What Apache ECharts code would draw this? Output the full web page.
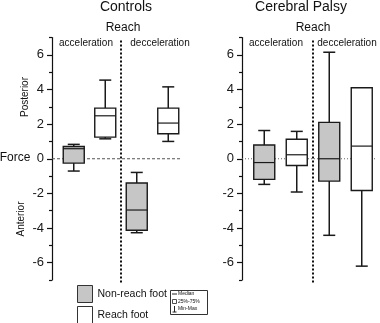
<!DOCTYPE html>
<html><head><meta charset="utf-8">
<script src="https://cdn.jsdelivr.net/npm/echarts@6/dist/echarts.min.js"></script>
<style>html,body{margin:0;padding:0;background:#fff}#c{width:380px;height:323px}</style>
</head><body><div id="c"></div>
<script>
// ---- data ----
const categories = ['acceleration non-reach', 'acceleration reach', 'decceleration non-reach', 'decceleration reach'];
const yMajorTicks = [-6, -4, -2, 0, 2, 4, 6];
const yMinorTicks = [-7, -5, -3, -1, 1, 3, 5, 7];
// each box: [min, Q1, median, Q3, max]; first = acceleration, second = decceleration
const controlsNonReach = [[-0.71, -0.25, 0.58, 0.71, 0.83], [-4.27, -4.13, -2.96, -1.40, -0.79]];
const controlsReach    = [[1.15, 1.25, 2.48, 2.92, 4.54], [1.00, 1.44, 2.06, 2.92, 4.15]];
const cpNonReach       = [[-1.48, -1.19, -0.22, 0.79, 1.63], [-4.42, -1.29, 0.00, 2.10, 6.15]];
const cpReach          = [[-1.92, -0.39, 0.23, 1.13, 1.58], [-6.20, -1.83, 0.73, 4.10, 4.10]];
const panelTitles = ['Controls', 'Cerebral Palsy'];
const seriesNames = ['Non-reach foot', 'Reach foot'];

// ---- style ----
const FONT = "'Liberation Sans', Arial, sans-serif";
const GRAY = '#c6c6c6';
const LINE = '#1a1a1a';
const BOX_W = 21, CAP_W = 12;

function boxRender(params, api) {
  const x = api.value(0);
  const p = [1, 2, 3, 4, 5].map(i => api.coord([x, api.value(i)]));
  const cx = p[0][0];
  const [yMin, yQ1, yMed, yQ3, yMax] = p.map(q => q[1]);
  const st = { stroke: LINE, lineWidth: 1.5, fill: null };
  const h = BOX_W / 2, c = CAP_W / 2;
  return { type: 'group', children: [
    { type: 'line', shape: { x1: cx, y1: yMax, x2: cx, y2: yQ3 }, style: st },
    { type: 'line', shape: { x1: cx - c, y1: yMax, x2: cx + c, y2: yMax }, style: st },
    { type: 'line', shape: { x1: cx, y1: yQ1, x2: cx, y2: yMin }, style: st },
    { type: 'line', shape: { x1: cx - c, y1: yMin, x2: cx + c, y2: yMin }, style: st },
    { type: 'rect', shape: { x: cx - h, y: yQ3, width: BOX_W, height: yQ1 - yQ3 }, style: { fill: api.visual('color'), stroke: LINE, lineWidth: 1.4 } },
    { type: 'line', shape: { x1: cx - h, y1: yMed, x2: cx + h, y2: yMed }, style: { stroke: LINE, lineWidth: 1.2 } }
  ]};
}

function decoRender(zeroDash, zeroColor) {
  return function (params, api) {
    const cs = params.coordSys;
    const x1 = api.coord([1, 0])[0], x2 = api.coord([2, 0])[0];
    const dx = (x1 + x2) / 2;
    const y0 = api.coord([0, 0])[1];
    return { type: 'group', silent: true, children: [
      { type: 'line', shape: { x1: cs.x - 6, y1: y0, x2: cs.x + cs.width - 2, y2: y0 }, style: { stroke: zeroColor, lineWidth: 1, lineDash: zeroDash } },
      { type: 'line', shape: { x1: dx, y1: cs.y + 3, x2: dx, y2: cs.y + cs.height + 3 }, style: { stroke: '#111', lineWidth: 2, lineDash: [2, 2] } }
    ]};
  };
}

const grids = [
  { left: 58, width: 126, top: 37.5, height: 242.5 },
  { left: 248, width: 130, top: 37.5, height: 242.5 }
];

const xAxes = grids.map((g, i) => ({
  type: 'category', gridIndex: i, data: categories, boundaryGap: true,
  axisLine: { show: false }, axisTick: { show: false }, axisLabel: { show: false }
}));

const yAxes = [];
grids.forEach((g, i) => {
  yAxes.push({
    type: 'value', gridIndex: i, min: -7, max: 7, position: 'left', offset: 6,
    axisLine: { show: true, lineStyle: { color: '#111', width: 1.2 } },
    axisTick: { show: true, length: 5, customValues: yMajorTicks, lineStyle: { color: '#111', width: 1.2 } },
    axisLabel: { show: true, customValues: yMajorTicks, margin: 8, fontSize: 13, color: '#1a1a1a', fontFamily: FONT },
    splitLine: { show: false }
  });
  yAxes.push({
    type: 'value', gridIndex: i, min: -7, max: 7, position: 'left', offset: 6,
    axisLine: { show: false },
    axisTick: { show: true, length: 3, customValues: yMinorTicks, lineStyle: { color: '#111', width: 1.2 } },
    axisLabel: { show: false },
    splitLine: { show: false }
  });
});

function boxSeries(name, arr, cats, gridIdx, color) {
  return {
    type: 'custom', name: name, xAxisIndex: gridIdx, yAxisIndex: gridIdx * 2,
    renderItem: boxRender,
    encode: { x: 0, y: [1, 2, 3, 4, 5] },
    itemStyle: { color: color, borderColor: LINE, borderWidth: 1 },
    data: arr.map((b, k) => [cats[k]].concat(b)),
    z: 3
  };
}

const series = [
  { type: 'custom', xAxisIndex: 0, yAxisIndex: 0, renderItem: decoRender([3, 2], '#555'), data: [[0, 0]], z: 1, silent: true },
  { type: 'custom', xAxisIndex: 1, yAxisIndex: 2, renderItem: decoRender([1, 2], '#666'), data: [[0, 0]], z: 1, silent: true },
  boxSeries(seriesNames[0], controlsNonReach, [0, 2], 0, GRAY),
  boxSeries(seriesNames[1], controlsReach, [1, 3], 0, '#fff'),
  boxSeries(seriesNames[0], cpNonReach, [0, 2], 1, GRAY),
  boxSeries(seriesNames[1], cpReach, [1, 3], 1, '#fff')
];

function txt(text, x, y, size, extra) {
  return Object.assign({ type: 'text', x: x, y: y, silent: true,
    style: { text: text, x: 0, y: 0, fill: '#111', font: size + 'px ' + FONT, align: 'center', verticalAlign: 'middle' } }, extra || {});
}

const graphic = [
  txt(panelTitles[0], 126, 7, 14),
  txt(panelTitles[1], 301, 7, 14),
  txt('Reach', 123, 28, 12),
  txt('Reach', 313, 28, 12),
  txt('acceleration', 86, 43, 10),
  txt('decceleration', 160, 43, 10),
  txt('acceleration', 276, 43, 10),
  txt('decceleration', 347, 43, 10),
  txt('Posterior', 25, 97, 10, { rotation: Math.PI / 2 }),
  txt('Anterior', 21, 219, 10, { rotation: Math.PI / 2 }),
  txt('Force', 15, 158, 12),
  // small key box
  { type: 'rect', silent: true, shape: { x: 170.5, y: 290.5, width: 37, height: 24 }, style: { fill: '#fff', stroke: '#333', lineWidth: 1 } },
  { type: 'line', silent: true, shape: { x1: 172, y1: 294, x2: 177, y2: 294 }, style: { stroke: '#222', lineWidth: 1 } },
  { type: 'rect', silent: true, shape: { x: 172.5, y: 299.5, width: 4, height: 4 }, style: { fill: '#fff', stroke: '#222', lineWidth: 0.8 } },
  { type: 'line', silent: true, shape: { x1: 174.5, y1: 306, x2: 174.5, y2: 312 }, style: { stroke: '#222', lineWidth: 1 } },
  { type: 'line', silent: true, shape: { x1: 172.5, y1: 312, x2: 176.5, y2: 312 }, style: { stroke: '#222', lineWidth: 1 } },
  { type: 'text', silent: true, style: { text: 'Median', x: 178, y: 294, fill: '#111', font: '5px ' + FONT, verticalAlign: 'middle' } },
  { type: 'text', silent: true, style: { text: '25%-75%', x: 178, y: 302, fill: '#111', font: '5px ' + FONT, verticalAlign: 'middle' } },
  { type: 'text', silent: true, style: { text: 'Min-Max', x: 178, y: 309, fill: '#111', font: '5px ' + FONT, verticalAlign: 'middle' } }
];

const chart = echarts.init(document.getElementById('c'), null, { renderer: 'canvas' });
chart.setOption({
  animation: false,
  backgroundColor: '#fff',
  grid: grids.map(g => Object.assign({ outerBoundsMode: 'none', containLabel: false }, g)),
  xAxis: xAxes,
  yAxis: yAxes,
  legend: {
    data: seriesNames, orient: 'vertical', left: 77, top: 285, width: 90, height: 60,
    itemWidth: 15, itemHeight: 17, itemGap: 3,
    icon: 'rect', padding: 0, selectedMode: false,
    itemStyle: { borderColor: '#333', borderWidth: 1 },
    textStyle: { fontSize: 10.5, color: '#111', fontFamily: FONT }
  },
  series: series,
  graphic: graphic
});
</script>
</body></html>
